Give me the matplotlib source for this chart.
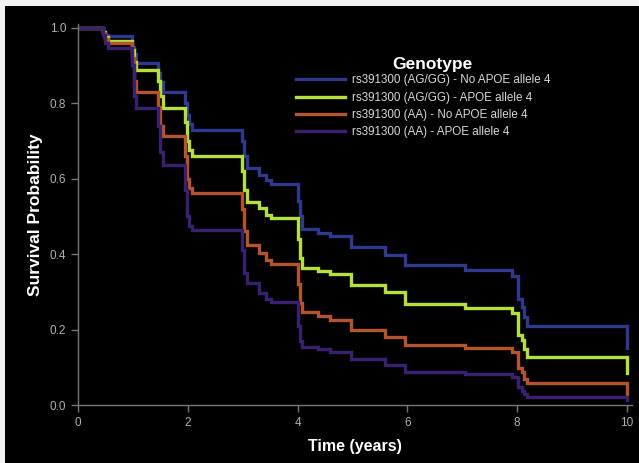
import matplotlib
matplotlib.use("Agg")
import matplotlib.pyplot as plt
from matplotlib.patches import Rectangle

plt.rcParams['font.family'] = ['Liberation Sans', 'DejaVu Sans']

# event times shared by all four groups (years)
times = [0, 0.46, 0.50, 0.54, 0.98, 1.02, 1.06, 1.46, 1.50, 1.54,
         1.95, 1.99, 2.03, 2.07, 2.98, 3.02, 3.08, 3.30, 3.42, 3.52,
         4.00, 4.04, 4.08, 4.37, 4.59, 4.98, 5.59, 5.96, 7.05, 7.90,
         8.02, 8.08, 8.12, 8.17, 10.0]

surv_ag_no4 = [1.0, 0.99, 0.98, 0.977, 0.95, 0.93, 0.906, 0.88, 0.855, 0.831,
               0.80, 0.77, 0.745, 0.729, 0.70, 0.66, 0.628, 0.61, 0.597, 0.586,
               0.54, 0.50, 0.466, 0.457, 0.448, 0.420, 0.398, 0.371, 0.358, 0.342,
               0.280, 0.261, 0.234, 0.210, 0.151]
surv_ag_4 = [1.0, 0.99, 0.975, 0.966, 0.94, 0.91, 0.889, 0.86, 0.82, 0.787,
             0.75, 0.70, 0.675, 0.659, 0.62, 0.57, 0.539, 0.522, 0.504, 0.495,
             0.44, 0.39, 0.364, 0.355, 0.347, 0.317, 0.300, 0.268, 0.258, 0.243,
             0.186, 0.172, 0.148, 0.128, 0.084]
surv_aa_no4 = [1.0, 0.985, 0.97, 0.959, 0.92, 0.86, 0.831, 0.79, 0.74, 0.712,
               0.66, 0.60, 0.575, 0.562, 0.52, 0.46, 0.423, 0.402, 0.385, 0.373,
               0.32, 0.27, 0.246, 0.236, 0.225, 0.199, 0.181, 0.159, 0.150, 0.141,
               0.097, 0.088, 0.068, 0.057, 0.027]
surv_aa_4 = [1.0, 0.98, 0.96, 0.946, 0.90, 0.82, 0.787, 0.74, 0.67, 0.637,
             0.57, 0.50, 0.475, 0.464, 0.41, 0.35, 0.323, 0.296, 0.280, 0.272,
             0.21, 0.17, 0.155, 0.148, 0.140, 0.121, 0.106, 0.088, 0.082, 0.073,
             0.049, 0.038, 0.029, 0.022, 0.013]

labels = ["rs391300 (AG/GG) - No APOE allele 4",
          "rs391300 (AG/GG) - APOE allele 4",
          "rs391300 (AA) - No APOE allele 4",
          "rs391300 (AA) - APOE allele 4"]
colors = ["#2f3a8f", "#b3e03a", "#b5552c", "#3a2070"]

fig = plt.figure(figsize=(6.39, 4.63), dpi=100, facecolor="#f2f2f2")
# dark panel (screenshot has a thin light edge top/left)
fig.patches.append(Rectangle((5 / 639, 0), 1, 1 - 6 / 463, transform=fig.transFigure,
                             facecolor="black", edgecolor="none", zorder=-10))

ax = fig.add_axes([78 / 639, 58 / 463, 554 / 639, 381 / 463])
ax.set_facecolor("black")

for s, lab, c in zip([surv_ag_no4, surv_ag_4, surv_aa_no4, surv_aa_4], labels, colors):
    ax.plot(times, s, drawstyle="steps-post", color=c, lw=2.4, label=lab,
            solid_joinstyle="miter")

ax.set_xlim(0, 10.09)
ax.set_ylim(0, 1.01)
ax.set_xticks([0, 2, 4, 6, 8, 10])
ax.set_yticks([0.0, 0.2, 0.4, 0.6, 0.8, 1.0])
ax.set_yticklabels(["0.0", "0.2", "0.4", "0.6", "0.8", "1.0"])

for side in ["top", "right"]:
    ax.spines[side].set_visible(False)
for side in ["left", "bottom"]:
    ax.spines[side].set_color("#777777")
    ax.spines[side].set_linewidth(1.0)
ax.tick_params(colors="#777777", labelcolor="#b0b0b0", labelsize=8.5, length=5, width=1)

ax.set_xlabel("Time (years)", color="white", fontsize=11.5, fontweight="bold", labelpad=7)
ax.set_ylabel("Survival Probability", color="white", fontsize=12.5, fontweight="bold", labelpad=5)

leg = ax.legend(loc="upper left", bbox_to_anchor=(0.378, 0.889), frameon=False,
                fontsize=8.4, handlelength=4.25, handletextpad=0.62,
                labelspacing=0.45, borderpad=0.2)
for t in leg.get_texts():
    t.set_color("#d8d8d8")
fig.text(432 / 639, 1 - 65 / 463, "Genotype", color="white", fontsize=12.5,
         fontweight="bold", ha="center", va="center")

fig.savefig("out.png", dpi=100, facecolor=fig.get_facecolor())
